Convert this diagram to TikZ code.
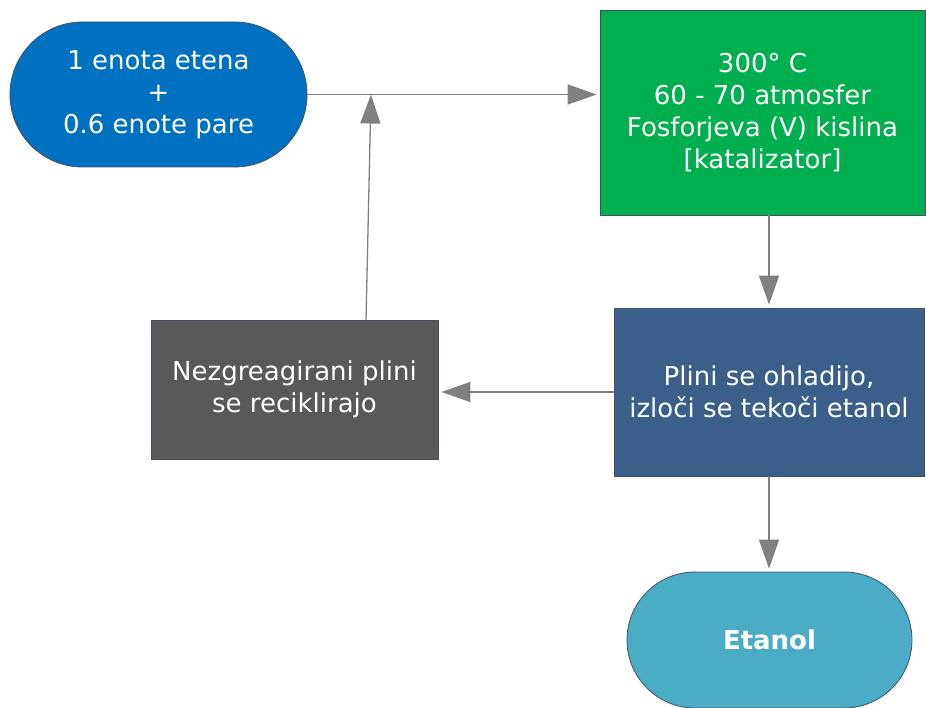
\documentclass[tikz,border=0pt]{standalone}
\usepackage{fontspec}
\setmainfont{DejaVu Sans}
\usetikzlibrary{shapes.misc,arrows.meta}
\definecolor{cStart}{RGB}{0,112,192}
\definecolor{cGreen}{RGB}{0,176,80}
\definecolor{cBlue}{RGB}{59,94,138}
\definecolor{cGray}{RGB}{89,89,89}
\definecolor{cEnd}{RGB}{75,172,198}
\definecolor{cEdge}{RGB}{65,80,100}
\definecolor{cLine}{RGB}{128,128,128}
\tikzset{
  base/.style={draw=cEdge,line width=0.8pt,text=white,align=center,inner sep=0pt,
    font=\fontsize{26}{32}\selectfont},
  term/.style={base,rounded rectangle},
  procbox/.style={base,rectangle},
  conn/.style={draw=cLine,line width=1.3pt,-{Triangle[length=29pt,width=20pt]},shorten >=3pt}
}
\begin{document}
\begin{tikzpicture}[x=1pt,y=-1pt]
\useasboundingbox (0,0) rectangle (926,708);
\node[term,fill=cStart,minimum width=297pt,minimum height=145pt] (start) at (158.5,94.5)
  {1 enota etena\\+\\0.6 enote pare};
\node[procbox,fill=cGreen,minimum width=325pt,minimum height=205pt] (react) at (762.5,112.5)
  {300° C\\60 - 70 atmosfer\\Fosforjeva (V) kislina\\{[katalizator]}};
\node[procbox,fill=cBlue,minimum width=310pt,minimum height=168pt] (cool) at (769,392)
  {Plini se ohladijo,\\izloči se tekoči etanol};
\node[procbox,fill=cGray,minimum width=287pt,minimum height=139pt] (recy) at (294.5,389.5)
  {Nezgreagirani plini\\se reciklirajo};
\node[term,fill=cEnd,minimum width=285pt,minimum height=136pt,font=\fontsize{26}{32}\selectfont\bfseries] (end) at (769.5,640)
  {Etanol};
\coordinate (join) at (371,94.5);
\coordinate (rb) at (366,320);
\draw[conn] (start.east) -- (react.west |- start.east);
\draw[conn] (react.south -| cool.north) -- (cool.north);
\draw[conn] (cool.west) -- (recy.east |- cool.west);
\draw[conn] (cool.south) -- (end.north -| cool.south);
\draw[conn,shorten >=0pt] (rb) -- (join);
\end{tikzpicture}
\end{document}
